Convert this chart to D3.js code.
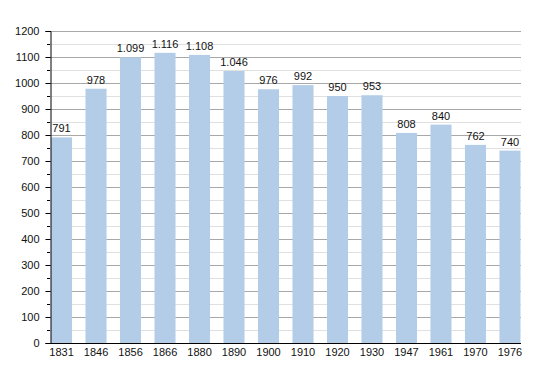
<!DOCTYPE html>
<html>
<head>
<meta charset="utf-8">
<script src="https://cdn.jsdelivr.net/npm/d3@7"></script>
<style>
    body { margin: 0; background: #fff; }
    text { font-family: "Liberation Sans", Arial, sans-serif; }
</style>
</head>
<body>
<svg id="chart" width="550" height="373"></svg>
<script>
// Population by census year
var years = ["1831", "1846", "1856", "1866", "1880", "1890", "1900",
             "1910", "1920", "1930", "1947", "1961", "1970", "1976"];
var population = [791, 978, 1099, 1116, 1108, 1046, 976,
                  992, 950, 953, 808, 840, 762, 740];
var yTicks = [0, 100, 200, 300, 400, 500, 600, 700, 800, 900, 1000, 1100, 1200];

window.addEventListener("load", function () {
    drawChart();
});

function drawChart() {
    var svg = d3.select("#chart"),
        left = 50, right = 521, top = 31, bottom = 343;

    var x = d3.scaleBand().domain(years).range([51, 520.5])
        .paddingInner(0.39).paddingOuter(0);
    var y = d3.scaleLinear().domain([0, 1200]).range([bottom, top]);

    // minor grid every 50
    var halfTicks = d3.range(50, 1200, 100);
    svg.append("g").selectAll("line")
        .data(halfTicks).enter().append("line")
        .attr("x1", left).attr("x2", right)
        .attr("y1", function (d) { return y(d) + 0.5; })
        .attr("y2", function (d) { return y(d) + 0.5; })
        .attr("stroke", "#e0e0e0");

    // major grid every 100
    svg.append("g").selectAll("line")
        .data(yTicks.slice(1)).enter().append("line")
        .attr("x1", left).attr("x2", right)
        .attr("y1", function (d) { return y(d) + 0.5; })
        .attr("y2", function (d) { return y(d) + 0.5; })
        .attr("stroke", "#a8a8a8");

    // bars
    svg.append("g").selectAll("rect")
        .data(population).enter().append("rect")
        .attr("x", function (d, i) { return x(years[i]); })
        .attr("y", function (d) { return y(d); })
        .attr("width", x.bandwidth())
        .attr("height", function (d) { return bottom - y(d); })
        .attr("fill", "#b3cde8");

    // value labels, "." as thousands separator
    var fmt = d3.formatLocale({ decimal: ",", thousands: ".", grouping: [3], currency: ["", ""] }).format(",d");
    svg.append("g").selectAll("text")
        .data(population).enter().append("text")
        .attr("x", function (d, i) { return x(years[i]) + x.bandwidth() / 2; })
        .attr("y", function (d) { return y(d) - 5; })
        .attr("text-anchor", "middle")
        .attr("font-size", "11px")
        .attr("fill", "#111")
        .text(function (d) { return fmt(d); });

    // y axis
    var yAxis = svg.append("g")
        .attr("transform", "translate(" + (left + 0.5) + ",0)")
        .call(d3.axisLeft(y).tickValues(yTicks).tickFormat(d3.format("d")).tickSize(5).tickPadding(6));
    yAxis.select(".domain").attr("stroke", "#000");
    yAxis.selectAll("text").attr("font-size", "11px").attr("fill", "#111")
        .style("font-family", "'Liberation Sans', Arial, sans-serif");

    // minor ticks
    svg.append("g").selectAll("line")
        .data(halfTicks).enter().append("line")
        .attr("x1", left - 3).attr("x2", left)
        .attr("y1", function (d) { return y(d) + 0.5; })
        .attr("y2", function (d) { return y(d) + 0.5; })
        .attr("stroke", "#000");

    // x axis
    var xAxis = svg.append("g")
        .attr("transform", "translate(0," + (bottom + 0.5) + ")")
        .call(d3.axisBottom(x).tickSize(0).tickPadding(5));
    xAxis.select(".domain").remove();
    xAxis.selectAll("text").attr("font-size", "11px").attr("fill", "#111")
        .style("font-family", "'Liberation Sans', Arial, sans-serif");
    svg.append("line")
        .attr("x1", left).attr("x2", right)
        .attr("y1", bottom + 0.5).attr("y2", bottom + 0.5)
        .attr("stroke", "#000");
}
</script>
</body>
</html>
